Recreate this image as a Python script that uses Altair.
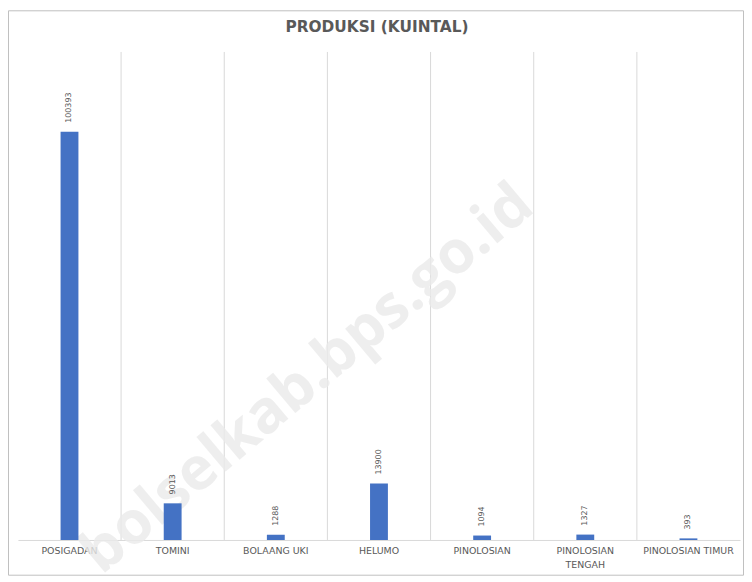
import altair as alt
import pandas as pd

categories = ["POSIGADAN", "TOMINI", "BOLAANG UKI", "HELUMO", "PINOLOSIAN",
              "PINOLOSIAN TENGAH", "PINOLOSIAN TIMUR"]
produksi = [100393, 9013, 1288, 13900, 1094, 1327, 393]

df = pd.DataFrame({"kec": categories, "val": produksi})
grid_df = pd.DataFrame({"kec": categories[1:]})

W, H = 728, 492
xscale = alt.Scale(domain=categories, paddingInner=0, paddingOuter=0)
yscale = alt.Scale(domain=[0, 120000], nice=False)

xaxis = alt.Axis(labelAngle=0, labelFont="DejaVu Sans", labelFontSize=9.5,
                 labelColor="#595959", ticks=False, domainColor="#d9d9d9",
                 labelPadding=6, grid=False, title=None, labelLineHeight=14,
                 labelBaseline="top",
                 labelExpr="datum.value == 'PINOLOSIAN TENGAH' ? ['PINOLOSIAN', 'TENGAH'] : datum.value")

border = alt.Chart(pd.DataFrame({"a": [0]})).mark_rect(
    fill=None, stroke="#bfbfbf", strokeWidth=1
).encode(x=alt.value(-9.5), x2=alt.value(W + 3.5), y=alt.value(-41.5), y2=alt.value(H + 35.5))

grid = alt.Chart(grid_df).mark_rule(color="#d9d9d9", strokeWidth=1).encode(
    x=alt.X("kec:N", scale=xscale, sort=categories, bandPosition=0, axis=xaxis),
    y=alt.value(0), y2=alt.value(H),
)

bars = alt.Chart(df).mark_bar(color="#4472C4", size=18).encode(
    x=alt.X("kec:N", scale=xscale, sort=categories, axis=xaxis),
    y=alt.Y("val:Q", scale=yscale, axis=None),
)

labels = alt.Chart(df).mark_text(
    angle=270, align="left", baseline="middle", dx=9, font="DejaVu Sans",
    fontSize=8, color="#595959"
).encode(
    x=alt.X("kec:N", scale=xscale, sort=categories, axis=xaxis),
    y=alt.Y("val:Q", scale=yscale, axis=None),
    text="val:Q",
)

title = alt.Chart(pd.DataFrame({"t": ["PRODUKSI (KUINTAL)"]})).mark_text(
    font="DejaVu Sans", fontSize=15.5, fontWeight="bold", color="#595959",
    align="center", baseline="middle"
).encode(x=alt.value(362), y=alt.value(-25), text="t:N")

watermark = alt.Chart(pd.DataFrame({"t": ["bolselkab.bps.go.id"]})).mark_text(
    font="Open Sans", fontSize=60, fontWeight="bold", color="#ebebeb", opacity=0.8,
    angle=320, align="center", baseline="middle"
).encode(x=alt.value(292), y=alt.value(330), text="t:N")

chart = alt.layer(border, grid, watermark, bars, labels, title).properties(
    width=W, height=H,
    autosize=alt.AutoSizeParams(type="none"),
    padding={"left": 10, "top": 42, "right": 4, "bottom": 36},
).configure_view(stroke=None)

chart.save("out.html", embed_options={"renderer": "svg", "actions": False})
